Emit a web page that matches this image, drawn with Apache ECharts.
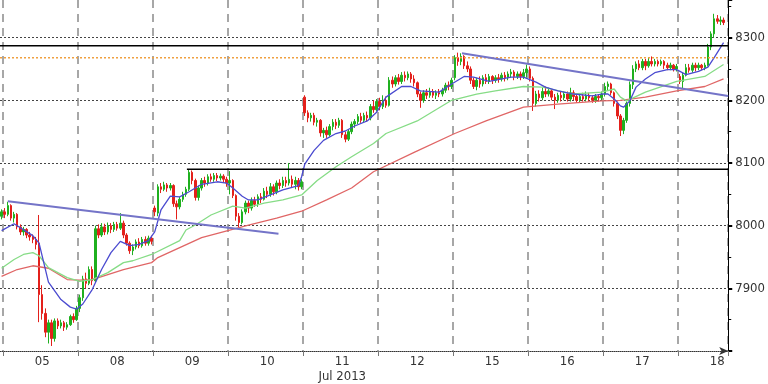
<!DOCTYPE html>
<html><head><meta charset="utf-8">
<script src="https://cdn.jsdelivr.net/npm/echarts@6/dist/echarts.min.js"></script>
<style>html,body{margin:0;padding:0;background:#fff}#c{width:768px;height:384px}</style>
</head><body><div id="c"></div>
<script>
// ---- data ----
const days = ['05','08','09','10','11','12','15','16','17','18'];
const prevDay = '04';
const monthLabel = 'Jul 2013';
const barsPerDay = 24;
const slots = 233;

const opens = [
8015,8022,8018,8032,8012,8018,7998,7990,7994,7985,7982,7978,7972,7890,7860,7830,7845,7820,7848,7840,7845,7838,7842,7855,7850,
7868,7885,7915,7908,7930,7912,7995,7985,7998,7990,8000,7994,8002,7996,8004,7985,7972,7960,7966,7974,7968,7978,7972,7980,
8028,8020,8062,8058,8065,8060,8064,8035,8030,8042,8050,8058,8085,8072,8045,8060,8072,8068,8078,8074,8080,8076,8079,8074,
8068,8072,8048,8015,8005,8022,8036,8028,8040,8034,8046,8042,8055,8050,8062,8054,8068,8064,8072,8068,8074,8066,8072,8062,
8205,8180,8172,8176,8165,8168,8148,8152,8145,8158,8165,8160,8168,8145,8138,8150,8162,8166,8174,8168,8176,8172,8190,8185,
8198,8190,8200,8192,8232,8226,8236,8230,8240,8236,8242,8234,8228,8210,8200,8212,8208,8214,8208,8212,8210,8216,8224,8222,
8236,8268,8262,8270,8255,8250,8232,8222,8232,8226,8236,8230,8238,8232,8236,8234,8240,8236,8242,8245,8238,8242,8238,8244,
8250,8235,8195,8210,8204,8214,8210,8215,8205,8200,8208,8204,8210,8202,8212,8206,8200,8206,8202,8208,8204,8200,8206,8204,
8210,8222,8226,8212,8195,8175,8152,8168,8195,8225,8250,8258,8252,8262,8255,8262,8258,8262,8258,8262,8256,8252,8256,8250,
8238,8230,8240,8252,8248,8256,8252,8256,8252,8256,8285,8306,8330,8326,8328
];
const closes = [
8022,8018,8032,8012,8018,7998,7990,7994,7985,7982,7978,7970,7890,7860,7830,7845,7820,7848,7840,7845,7838,7842,7855,7850,7868,
7885,7915,7908,7930,7912,7995,7985,7998,7990,8000,7994,8002,7996,8004,7985,7972,7960,7966,7974,7968,7978,7972,7980,7975,
8022,8062,8058,8065,8060,8064,8035,8030,8042,8050,8058,8085,8072,8045,8060,8072,8068,8078,8074,8080,8076,8079,8074,8068,
8072,8048,8015,8005,8022,8036,8028,8040,8034,8046,8042,8055,8050,8062,8054,8068,8064,8072,8068,8074,8066,8072,8062,8070,
8180,8172,8176,8165,8168,8148,8152,8145,8158,8165,8160,8168,8145,8138,8150,8162,8166,8174,8168,8176,8172,8190,8185,8198,
8190,8200,8192,8232,8226,8236,8230,8240,8236,8242,8234,8228,8210,8200,8212,8208,8214,8208,8212,8210,8216,8224,8222,8232,
8268,8262,8270,8255,8250,8232,8222,8232,8226,8236,8230,8238,8232,8236,8234,8240,8236,8242,8245,8238,8242,8238,8244,8250,
8235,8195,8210,8204,8214,8210,8215,8205,8200,8208,8204,8210,8202,8212,8206,8200,8206,8202,8208,8204,8200,8206,8204,8210,
8222,8226,8212,8195,8175,8152,8168,8195,8225,8250,8258,8252,8262,8255,8262,8258,8262,8258,8262,8256,8252,8256,8250,8254,
8230,8240,8252,8248,8256,8252,8256,8252,8256,8285,8306,8330,8326,8328,8324
];
const lows = [
8010,8012,8015,8008,8005,7994,7985,7984,7980,7976,7972,7962,7846,7850,7822,7812,7808,7815,7835,7836,7832,7834,7840,7845,7848,
7862,7880,7900,7905,7905,7910,7980,7982,7985,7986,7988,7990,7992,7993,7980,7968,7955,7953,7962,7964,7965,7968,7968,7970,
8015,8015,8052,8055,8054,8056,8030,8010,8026,8038,8046,8055,8066,8040,8040,8056,8062,8064,8070,8070,8071,8072,8069,8062,
8050,8044,8008,7997,8002,8018,8020,8024,8030,8030,8036,8040,8044,8046,8048,8050,8058,8060,8062,8064,8060,8058,8056,8058,
8175,8165,8166,8160,8158,8142,8140,8140,8142,8152,8154,8156,8140,8133,8135,8146,8156,8162,8164,8164,8166,8168,8180,8182,
8184,8186,8188,8190,8220,8222,8225,8226,8230,8232,8228,8222,8205,8188,8196,8202,8204,8204,8202,8205,8206,8212,8216,8218,
8232,8255,8256,8250,8245,8226,8218,8216,8220,8222,8226,8226,8226,8228,8228,8230,8230,8232,8236,8232,8234,8232,8234,8236,
8230,8183,8190,8198,8200,8205,8206,8200,8186,8196,8198,8200,8198,8198,8200,8196,8196,8198,8198,8198,8196,8196,8198,8200,
8206,8215,8208,8190,8170,8143,8146,8164,8190,8218,8245,8248,8248,8248,8252,8254,8254,8254,8255,8250,8248,8248,8246,8246,
8226,8218,8238,8244,8244,8246,8248,8248,8248,8254,8280,8300,8322,8320,8320
];
const highs = [
8026,8028,8038,8034,8022,8020,8002,7998,7996,7990,7986,7982,8017,7905,7868,7850,7850,7852,7852,7850,7848,7846,7858,7860,7872,
7890,7920,7925,7935,7935,8000,8002,8004,8003,8005,8004,8006,8006,8020,8008,7988,7975,7970,7978,7980,7982,7983,7984,7984,
8032,8066,8068,8070,8068,8068,8066,8040,8046,8054,8062,8090,8088,8075,8064,8076,8078,8082,8083,8084,8084,8083,8082,8078,
8087,8074,8050,8020,8026,8040,8040,8045,8046,8050,8052,8060,8062,8068,8066,8072,8074,8078,8078,8100,8080,8078,8076,8074,
8208,8184,8180,8180,8172,8170,8156,8158,8162,8170,8170,8172,8170,8150,8154,8166,8170,8178,8180,8180,8182,8194,8200,8202,
8204,8208,8206,8237,8238,8240,8242,8245,8246,8246,8245,8240,8230,8214,8216,8218,8220,8218,8216,8218,8220,8228,8230,8236,
8272,8276,8275,8272,8262,8254,8236,8236,8238,8240,8242,8242,8240,8240,8242,8244,8245,8246,8250,8248,8246,8246,8250,8257,
8254,8238,8215,8216,8220,8222,8220,8218,8210,8212,8214,8214,8214,8220,8216,8210,8210,8212,8214,8212,8208,8210,8210,8214,
8228,8230,8228,8214,8198,8178,8172,8198,8230,8256,8262,8264,8266,8266,8268,8270,8266,8265,8265,8264,8260,8260,8258,8258,
8242,8244,8258,8258,8260,8260,8260,8258,8260,8290,8310,8338,8336,8334,8332
];

// moving averages: [bar index, value]
const maFast = [[0,7992],[4,8003],[10,7984],[12,7972],[15,7910],[19,7882],[22,7870],[24,7867],[26,7875],[29,7898],[32,7930],[35,7957],[38,7975],[41,7968],[44,7970],[47,7976],[49,7990],[51,8025],[54,8047],[57,8046],[60,8054],[64,8066],[69,8070],[72,8068],[74,8060],[77,8047],[79,8041],[82,8041],[86,8049],[90,8057],[95,8064],[96,8078],[97,8098],[100,8120],[103,8136],[107,8147],[110,8151],[113,8159],[117,8167],[120,8181],[123,8205],[128,8222],[131,8222],[134,8215],[140,8213],[144,8226],[148,8238],[151,8237],[156,8230],[163,8237],[167,8237],[171,8229],[174,8221],[178,8215],[183,8210],[189,8207],[192,8210],[194,8210],[196,8202],[198,8191],[199,8189],[201,8199],[203,8221],[206,8234],[209,8244],[213,8249],[216,8249],[219,8241],[223,8246],[226,8253],[228,8268],[230,8284],[231,8292]];
const maMid = [[0,7932],[4,7946],[7,7954],[10,7957],[12,7952],[15,7933],[21,7917],[25,7911],[29,7914],[34,7925],[39,7941],[42,7944],[48,7954],[57,7976],[59,7993],[62,8001],[67,8017],[74,8031],[78,8028],[84,8036],[90,8041],[96,8049],[101,8072],[107,8094],[112,8110],[119,8131],[123,8147],[133,8167],[144,8200],[152,8210],[158,8215],[167,8222],[173,8221],[183,8210],[192,8213],[196,8218],[198,8205],[200,8199],[206,8213],[216,8230],[225,8238],[231,8257]];
const maSlow = [[0,7919],[5,7930],[10,7936],[15,7932],[21,7914],[25,7913],[29,7914],[34,7922],[39,7930],[48,7941],[50,7949],[64,7981],[73,7993],[79,8001],[88,8012],[96,8023],[104,8041],[112,8060],[119,8086],[132,8117],[145,8147],[155,8167],[167,8189],[178,8194],[192,8199],[198,8200],[206,8205],[216,8215],[225,8222],[231,8234]];

// drawn lines: [bar index, value]
const trendA = [[2,8039],[88.6,7987]];
const trendB = [[147.3,8275],[232.5,8207]];
const resistHigh = [[-0.5,8287],[232.5,8287]];
const resistOrange = [[-0.5,8268],[232.5,8268]];
const supportLow = [[59.3,8090],[232.5,8090]];

// ---- build ----
const cats = [prevDay + ' 23'];
days.forEach(d => { for (let h = 0; h < barsPerDay && cats.length < slots; h++) cats.push(d + ' ' + String(h).padStart(2,'0')); });
const candles = opens.map((o,i) => [o, closes[i], lows[i], highs[i]]);
const isDayStart = (i) => i % barsPerDay === 1;
const isDayMid = (i) => i >= 13 && (i - 13) % barsPerDay === 0;
const FONT = "'DejaVu Sans Condensed','Liberation Sans Narrow','DejaVu Sans',sans-serif";

const chart = echarts.init(document.getElementById('c'));
const line = (data, color, width, type, z) => ({
  type:'line', xAxisIndex:1, yAxisIndex:0, data, showSymbol:false, symbol:'none',
  lineStyle:{color, width, type: type || 'solid'}, z: z || 3, silent:true
});
chart.setOption({
  animation:false,
  backgroundColor:'#fff',
  grid:{left:0, right:35, top:0, bottom:29},
  xAxis:[{
    type:'category', data:cats, boundaryGap:true,
    axisLine:{show:true, onZero:false, lineStyle:{color:'#333', type:'dotted', width:1}, symbol:['none','arrow'], symbolSize:[6,9]},
    axisTick:{show:true, interval:(i)=>isDayStart(i), length:5, lineStyle:{color:'#777'}},
    axisLabel:{interval:(i)=>isDayMid(i), color:'#333', fontSize:13, fontFamily:FONT, margin:3, lineHeight:15,
      formatter:(v)=>{ const d = v.slice(0,2); return d === '11' ? d + '\n' + monthLabel : d; }},
    splitLine:{show:true, interval:(i)=>isDayStart(i), lineStyle:{color:'#8a8a8a', type:[8,6], width:1.5}}
  },{
    type:'value', min:-0.5, max:slots-0.5, show:false
  }],
  yAxis:{
    type:'value', position:'right', min:7800, max:8360, interval:100,
    axisLine:{show:true, onZero:false, lineStyle:{color:'#000', width:1}},
    axisTick:{show:true, length:4, lineStyle:{color:'#000', width:2}},
    minorTick:{show:true, splitNumber:2, length:3, lineStyle:{color:'#000'}},
    axisLabel:{showMinLabel:false, showMaxLabel:false, color:'#333', fontSize:13, fontFamily:FONT, margin:7,
      formatter:(v)=>String(v)},
    splitLine:{show:true, showMinLine:false, showMaxLine:false, lineStyle:{color:'#444', type:[2,2], width:1}}
  },
  series:[
    {type:'candlestick', xAxisIndex:0, yAxisIndex:0, data:candles, barWidth:2, z:2,
     itemStyle:{color:'#1fb01f', color0:'#e3201b', borderColor:'#1fb01f', borderColor0:'#e3201b', borderWidth:1}},
    line(maSlow, '#e06666', 1.3),
    line(maMid, '#86dc86', 1.3),
    line(maFast, '#4b4bd0', 1.3),
    line(resistOrange, '#f0a040', 1.5, [2,2], 4),
    line(resistHigh, '#000', 1.5, 'solid', 4),
    line(supportLow, '#000', 1.5, 'solid', 4),
    line(trendA, '#7474c8', 2, 'solid', 5),
    line(trendB, '#7474c8', 2, 'solid', 5)
  ]
});
</script></body></html>
